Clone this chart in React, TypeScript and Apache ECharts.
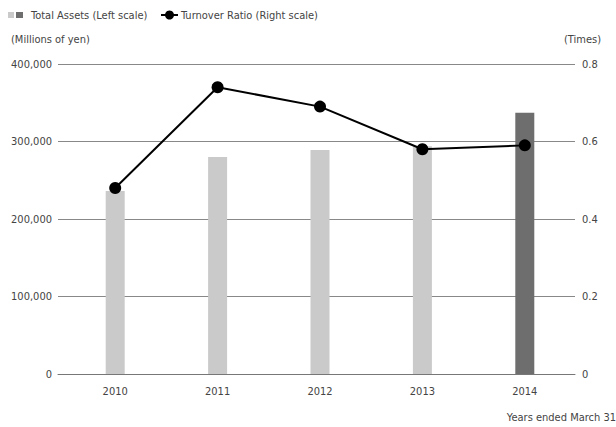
import React, { useEffect, useRef } from "react";
import * as echarts from "echarts";

const years = ["2010", "2011", "2012", "2013", "2014"];
const totalAssets = [236000, 280000, 289000, 294000, 337000];
const turnoverRatio = [0.48, 0.74, 0.69, 0.58, 0.59];
const leftTicks = [0, 100000, 200000, 300000, 400000];
const rightTicks = [0, 0.2, 0.4, 0.6, 0.8];

const FONT = "'DejaVu Sans Condensed', 'Roboto', sans-serif";
const TXT = "#444";
const FS = 11;

export default function App() {
  const ref = useRef<HTMLDivElement>(null);
  useEffect(() => {
    if (!ref.current) return;
    const chart = echarts.init(ref.current, undefined, { renderer: "svg" });
    const leftMax = leftTicks[leftTicks.length - 1];
    const rightMax = rightTicks[rightTicks.length - 1];
    chart.setOption({
      animation: false,
      textStyle: { fontFamily: FONT },
      grid: [
        { left: 64, right: 40, top: 64, bottom: 53, containLabel: false },
        { left: 58, right: 41, top: 64, bottom: 53, containLabel: false },
      ],
      xAxis: [
        {
          type: "category",
          gridIndex: 0,
          data: years,
          boundaryGap: true,
          axisLine: { show: false },
          axisTick: { show: false },
          axisLabel: { color: TXT, fontSize: FS, fontFamily: FONT, margin: 12 },
          z: 5,
        },
        {
          type: "category",
          gridIndex: 1,
          data: years,
          axisLine: { lineStyle: { color: "#777", width: 1 } },
          axisTick: { show: false },
          axisLabel: { show: false },
          z: 0,
        },
      ],
      yAxis: [
        {
          type: "value",
          gridIndex: 0,
          min: leftTicks[0],
          max: leftMax,
          interval: 100000,
          show: false,
          splitLine: { show: false },
        },
        {
          type: "value",
          gridIndex: 0,
          min: rightTicks[0],
          max: rightMax,
          interval: 0.2,
          show: false,
          splitLine: { show: false },
        },
        {
          type: "value",
          gridIndex: 1,
          min: leftTicks[0],
          max: leftMax,
          interval: 100000,
          position: "left",
          axisLine: { show: false },
          axisTick: { show: false },
          splitLine: { lineStyle: { color: "#888", width: 1 } },
          axisLabel: {
            color: TXT,
            fontSize: FS,
            fontFamily: FONT,
            margin: 6,
            formatter: (v: number) => v.toLocaleString("en-US"),
          },
        },
        {
          type: "value",
          gridIndex: 1,
          min: rightTicks[0],
          max: rightMax,
          interval: 0.2,
          position: "right",
          axisLine: { show: false },
          axisTick: { show: false },
          splitLine: { show: false },
          axisLabel: {
            color: TXT,
            fontSize: FS,
            fontFamily: FONT,
            margin: 7,
            formatter: (v: number) => (v === 0 ? "0" : v.toFixed(1)),
          },
        },
      ],
      series: [
        {
          type: "bar",
          xAxisIndex: 0,
          yAxisIndex: 0,
          barWidth: 19,
          z: 3,
          data: totalAssets.map((v, i) => ({
            value: v,
            itemStyle: { color: i === totalAssets.length - 1 ? "#6e6e6e" : "#c9cac9" },
          })),
        },
        {
          type: "line",
          xAxisIndex: 0,
          yAxisIndex: 1,
          data: turnoverRatio,
          symbol: "circle",
          symbolSize: 12,
          z: 4,
          lineStyle: { color: "#000", width: 2 },
          itemStyle: { color: "#000" },
        },
      ],
      graphic: [
        { type: "rect", shape: { x: 8, y: 12, width: 6, height: 6 }, style: { fill: "#c9cac9" } },
        { type: "rect", shape: { x: 16, y: 12, width: 7, height: 6 }, style: { fill: "#6e6e6e" } },
        {
          type: "text",
          x: 31,
          y: 15,
          style: { text: "Total Assets (Left scale)", fill: TXT, font: `${FS}px ${FONT}`, verticalAlign: "middle" },
        },
        { type: "line", shape: { x1: 161, y1: 15, x2: 178, y2: 15 }, style: { stroke: "#000", lineWidth: 2 } },
        { type: "circle", shape: { cx: 169.5, cy: 15, r: 4.5 }, style: { fill: "#000" } },
        {
          type: "text",
          x: 181,
          y: 15,
          style: { text: "Turnover Ratio (Right scale)", fill: TXT, font: `${FS}px ${FONT}`, verticalAlign: "middle" },
        },
        {
          type: "text",
          x: 11,
          y: 39,
          style: { text: "(Millions of yen)", fill: TXT, font: `${FS}px ${FONT}`, verticalAlign: "middle" },
        },
        {
          type: "text",
          x: 601,
          y: 39,
          style: { text: "(Times)", fill: TXT, font: `${FS}px ${FONT}`, verticalAlign: "middle", align: "right" },
        },
        {
          type: "text",
          x: 616,
          y: 417,
          style: { text: "Years ended March 31", fill: TXT, font: `${FS}px ${FONT}`, verticalAlign: "middle", align: "right" },
        },
      ],
    });
    return () => chart.dispose();
  }, []);
  return <div ref={ref} style={{ width: 616, height: 427, position: "absolute", left: 0, top: 0 }} />;
}
